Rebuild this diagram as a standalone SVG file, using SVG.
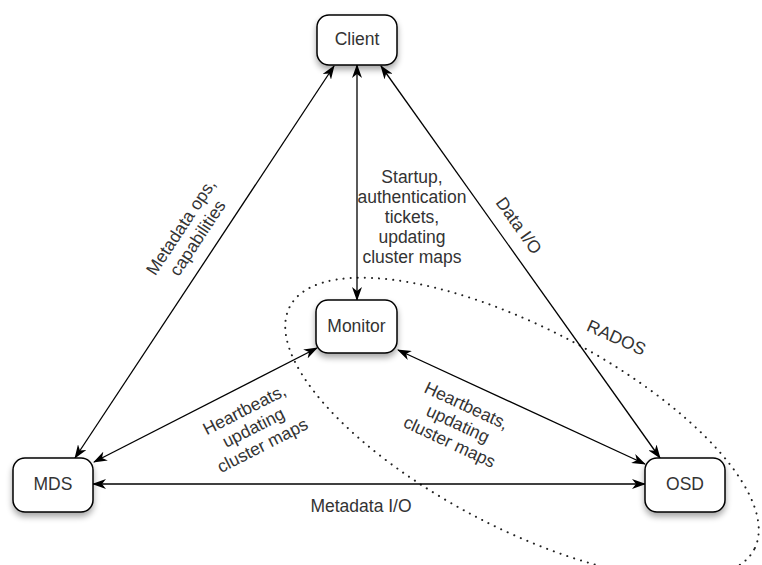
<svg xmlns="http://www.w3.org/2000/svg" width="762" height="565" viewBox="0 0 762 565">
<defs>
<filter id="sh" x="-20%" y="-20%" width="140%" height="160%">
<feGaussianBlur in="SourceAlpha" stdDeviation="3"/>
<feOffset dx="0" dy="4" result="b"/>
<feComponentTransfer><feFuncA type="linear" slope="0.35"/></feComponentTransfer>
<feMerge><feMergeNode/><feMergeNode in="SourceGraphic"/></feMerge>
</filter>
<marker id="ah" viewBox="0 0 14 10" markerWidth="14" markerHeight="10" refX="13" refY="5" orient="auto-start-reverse" markerUnits="userSpaceOnUse">
<path d="M0,0 L14,5 L0,10 L4,5 z" fill="#000"/>
</marker>
</defs>
<style>
.box{fill:#fff;stroke:#000;stroke-width:1.5;filter:url(#sh)}
.nt{font-family:"Liberation Sans",Arial,sans-serif;font-size:17.5px;fill:#333;text-anchor:middle}
.lt{font-family:"Liberation Sans",Arial,sans-serif;font-size:17.5px;fill:#333;text-anchor:middle}
.cn{stroke:#000;stroke-width:1.3;fill:none;marker-start:url(#ah);marker-end:url(#ah)}
.dot{fill:none;stroke:#222;stroke-width:2;stroke-dasharray:0.1 7;stroke-linecap:round}
</style>
<ellipse class="dot" cx="522" cy="428" rx="262" ry="100" transform="rotate(27.6 522 428)"/>
<g id="connectors">
<line class="cn" x1="357" y1="65" x2="357" y2="300"/>
<line class="cn" x1="334" y1="66" x2="75" y2="458"/>
<line class="cn" x1="381" y1="66" x2="660" y2="458"/>
<line class="cn" x1="317" y1="348" x2="94" y2="462"/>
<line class="cn" x1="398" y1="350" x2="645" y2="464"/>
<line class="cn" x1="93" y1="484" x2="645" y2="484"/>
</g>
<g id="labels">
<g transform="translate(190,233) rotate(-56.5)">
<text class="lt" x="0" y="-5">Metadata ops,</text>
<text class="lt" x="0" y="15">capabilities</text>
</g>
<g>
<text class="lt" x="412" y="183">Startup,</text>
<text class="lt" x="412" y="203">authentication</text>
<text class="lt" x="412" y="223">tickets,</text>
<text class="lt" x="412" y="243">updating</text>
<text class="lt" x="412" y="263">cluster maps</text>
</g>
<text class="lt" transform="translate(514,229) rotate(54.4)">Data I/O</text>
<text class="lt" transform="translate(614,343) rotate(24)">RADOS</text>
<g transform="translate(247,415) rotate(-27)">
<text class="lt" x="0" y="0">Heartbeats,</text>
<text class="lt" x="0" y="20">updating</text>
<text class="lt" x="0" y="40">cluster maps</text>
</g>
<g transform="translate(464,411) rotate(25)">
<text class="lt" x="0" y="0">Heartbeats,</text>
<text class="lt" x="0" y="20">updating</text>
<text class="lt" x="0" y="40">cluster maps</text>
</g>
<text class="lt" x="361" y="512">Metadata I/O</text>
</g>
<g id="client"><rect class="box" x="317" y="15" width="80" height="50" rx="12"/><text class="nt" x="357" y="45">Client</text></g>
<g id="monitor"><rect class="box" x="316" y="300" width="81" height="53" rx="12"/><text class="nt" x="356.5" y="332">Monitor</text></g>
<g id="mds"><rect class="box" x="13" y="458" width="80" height="54" rx="12"/><text class="nt" x="53" y="490">MDS</text></g>
<g id="osd"><rect class="box" x="645" y="458" width="80" height="54" rx="12"/><text class="nt" x="685" y="490">OSD</text></g>
</svg>
